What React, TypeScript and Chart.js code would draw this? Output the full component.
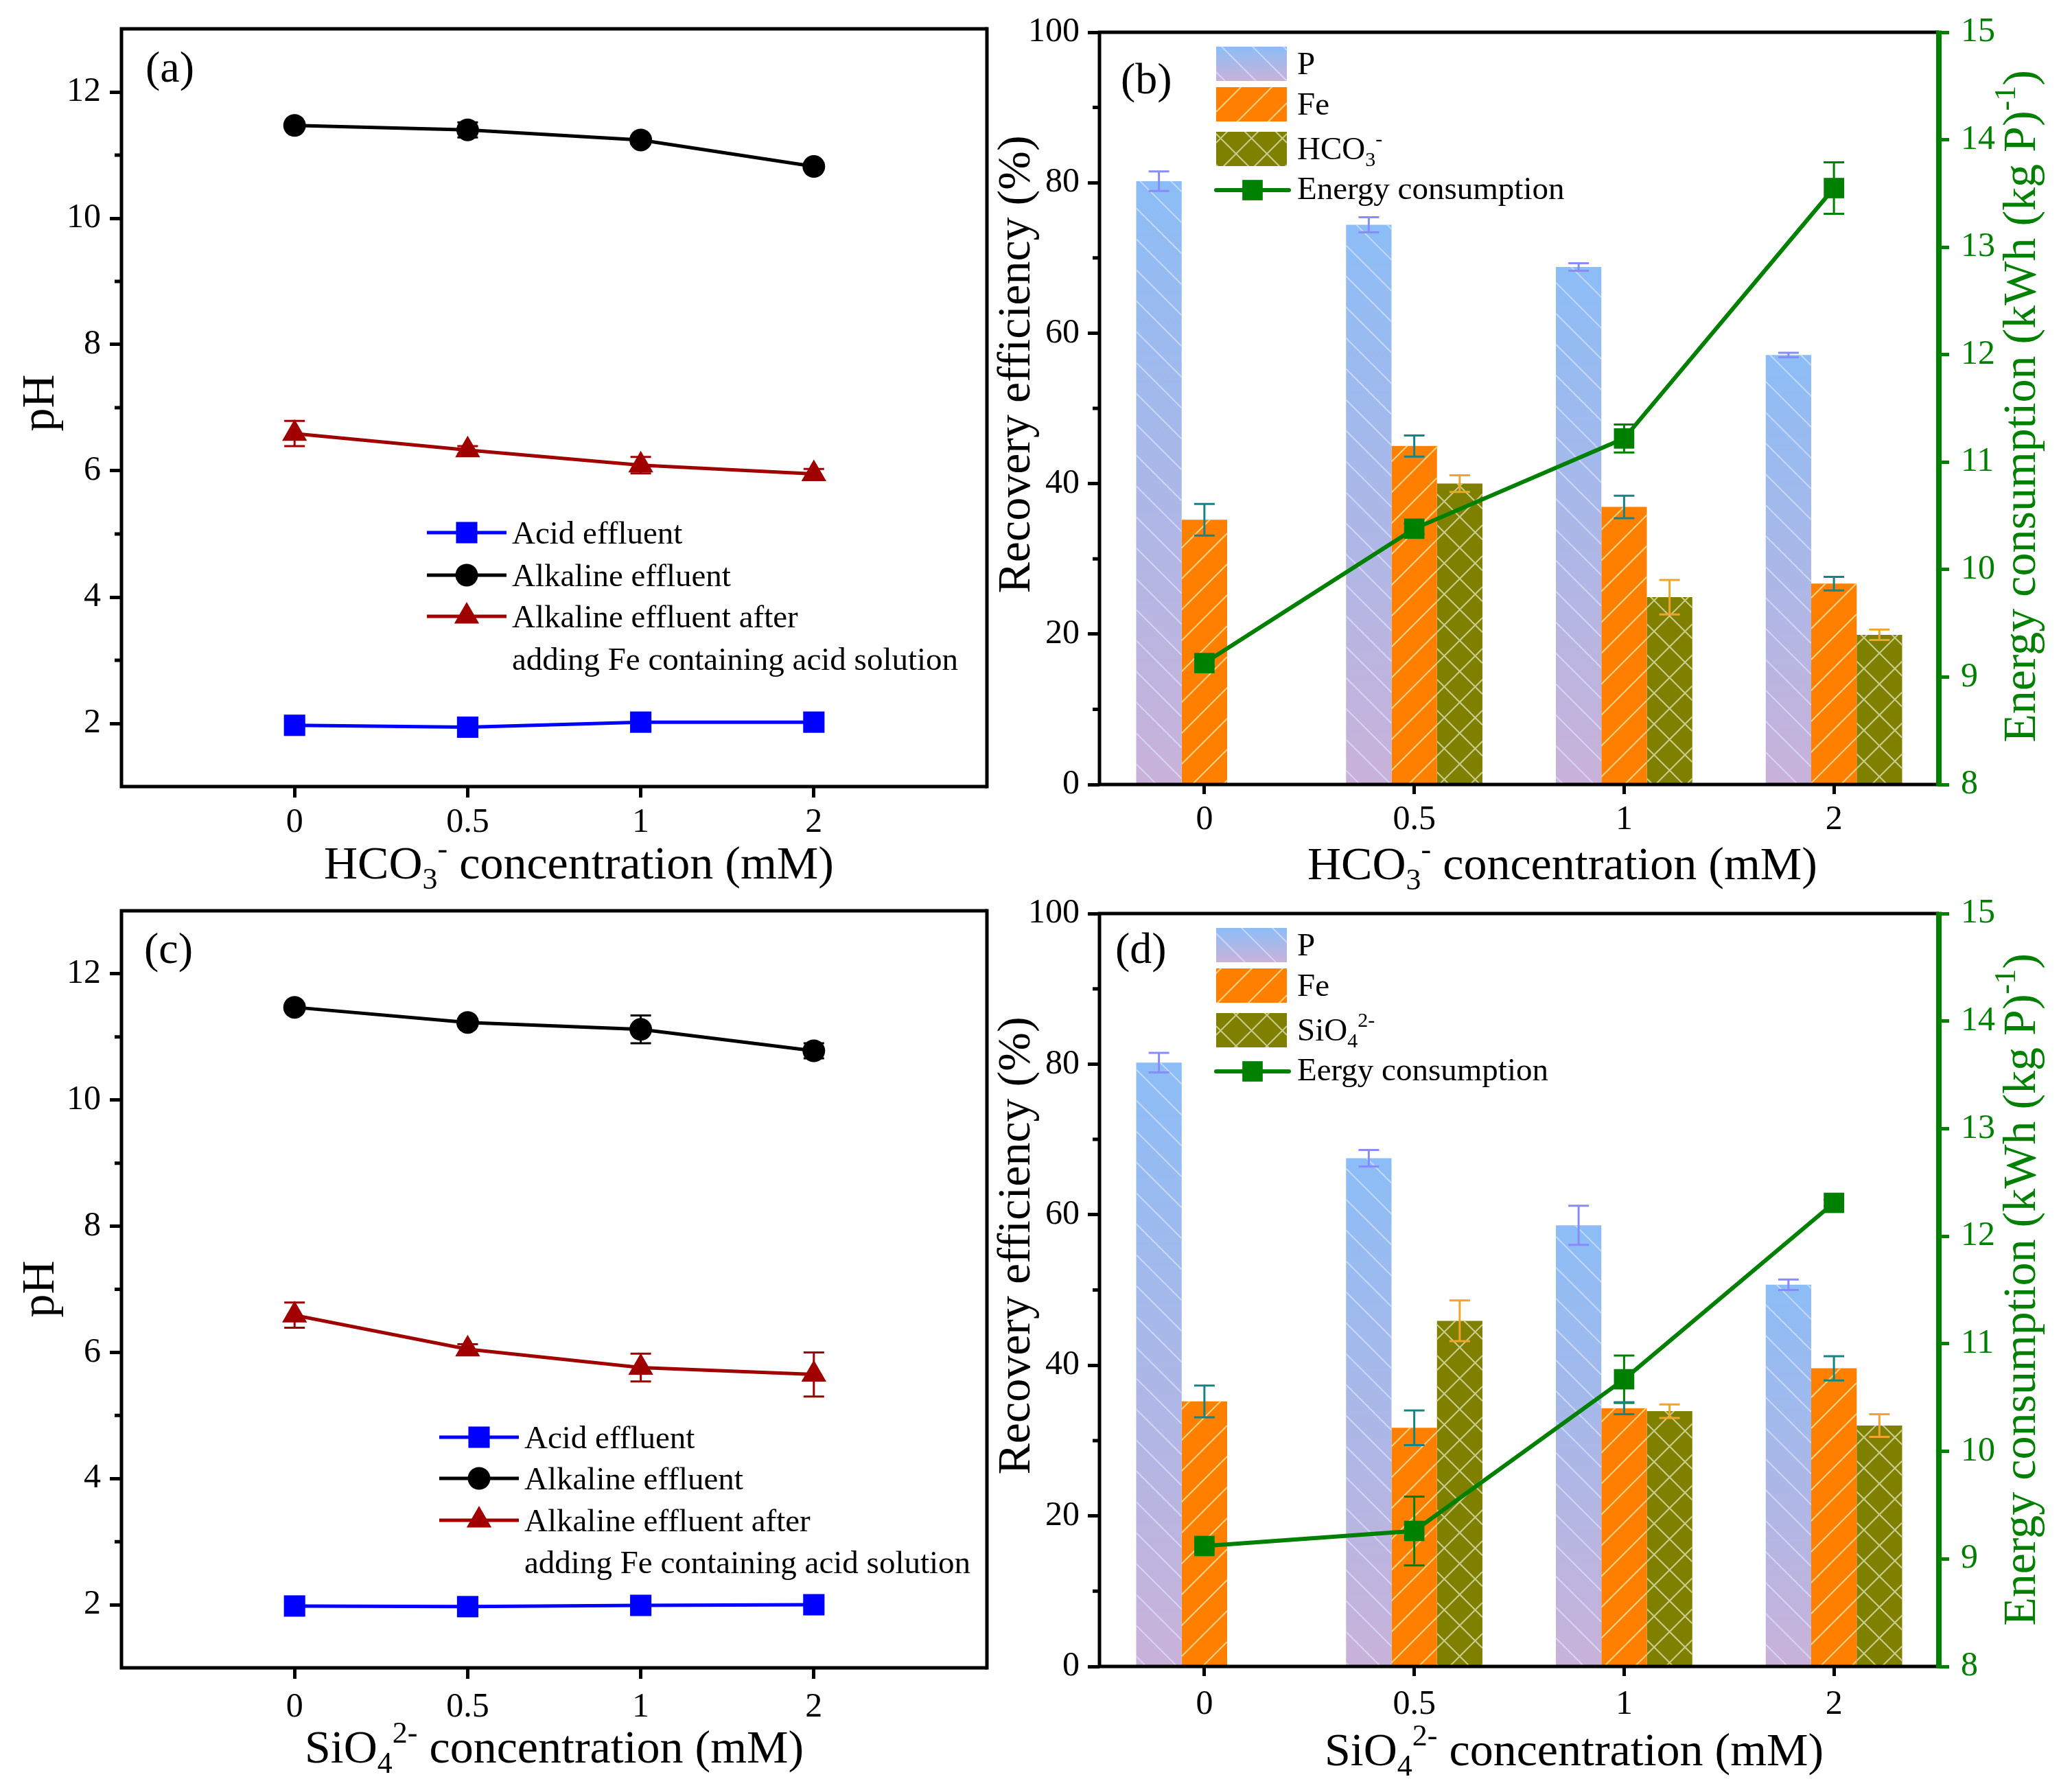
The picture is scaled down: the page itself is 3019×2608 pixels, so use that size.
import React, { useEffect, useRef } from 'react';
import { Chart, registerables } from 'chart.js';

Chart.register(...registerables);

const FONT = '"Liberation Serif", "Times New Roman", Times, serif';
Chart.defaults.font.family = FONT;

// ---------------- data ----------------
const concLabels = ['0', '0.5', '1', '2'];

// (a) HCO3- series, pH
const acidA = [1.97, 1.94, 2.02, 2.02];
const acidAErr = [0.03, 0.03, 0.03, 0.03];
const alkA = [11.47, 11.4, 11.24, 10.82];
const alkAErr = [0.05, 0.12, 0.06, 0.05];
const alkFeA = [6.59, 6.33, 6.09, 5.95];
const alkFeAErr = [0.2, 0.06, 0.13, 0.08];

// (c) SiO4 2- series, pH
const acidC = [1.98, 1.97, 1.99, 2.0];
const acidCErr = [0.03, 0.03, 0.03, 0.03];
const alkC = [11.47, 11.23, 11.12, 10.78];
const alkCErr = [0.04, 0.05, 0.22, 0.12];
const alkFeC = [6.59, 6.05, 5.76, 5.65];
const alkFeCErr = [0.2, 0.08, 0.22, 0.35];

// (b) recovery efficiency (%) and energy, HCO3-
const pB = [80.2, 74.4, 68.8, 57.1];
const pBErr = [1.3, 1.0, 0.5, 0.3];
const feB = [35.2, 45.0, 36.9, 26.7];
const feBErr = [2.1, 1.4, 1.5, 0.9];
const hco3B = [null, 40.0, 24.9, 19.9];
const hco3BErr = [0, 1.1, 2.3, 0.7];
const energyB = [9.13, 10.38, 11.22, 13.55];
const energyBErr = [0.03, 0.05, 0.13, 0.24];

// (d) recovery efficiency (%) and energy, SiO4 2-
const pD = [80.2, 67.5, 58.6, 50.7];
const pDErr = [1.3, 1.1, 2.6, 0.7];
const feD = [35.2, 31.7, 34.3, 39.6];
const feDErr = [2.1, 2.3, 0.8, 1.6];
const sio4D = [null, 45.9, 33.9, 32.0];
const sio4DErr = [0, 2.7, 0.9, 1.5];
const energyD = [9.12, 9.26, 10.67, 12.31];
const energyDErr = [0.03, 0.32, 0.22, 0.03];

const pHTicks = [2, 4, 6, 8, 10, 12];
const pHMinor = [3, 5, 7, 9, 11];
const recTicks = [0, 20, 40, 60, 80, 100];
const recMinor = [10, 30, 50, 70, 90];
const energyTicks = [8, 9, 10, 11, 12, 13, 14, 15];

// ---------------- helpers ----------------
type Seg = { t: string; s?: 'sub' | 'sup' };
interface TextSpec { segs: Seg[]; x: number; y: number; size: number; color?: string; rot?: boolean; align?: 'left' | 'center' }

const segFont = (size: number, s?: string) => `${s ? Math.round(size * 0.64) : size}px ${FONT}`;

function drawRich(ctx: CanvasRenderingContext2D, sp: TextSpec) {
  ctx.save();
  ctx.translate(sp.x, sp.y);
  if (sp.rot) ctx.rotate(-Math.PI / 2);
  let w = 0;
  for (const g of sp.segs) { ctx.font = segFont(sp.size, g.s); w += ctx.measureText(g.t).width; }
  let cx = sp.align === 'center' ? -w / 2 : 0;
  ctx.fillStyle = sp.color || '#000';
  ctx.textAlign = 'left';
  ctx.textBaseline = 'alphabetic';
  for (const g of sp.segs) {
    ctx.font = segFont(sp.size, g.s);
    const dy = g.s === 'sub' ? sp.size * 0.22 : g.s === 'sup' ? -sp.size * 0.42 : 0;
    ctx.fillText(g.t, cx, dy);
    cx += ctx.measureText(g.t).width;
  }
  ctx.restore();
}

function drawMarker(ctx: CanvasRenderingContext2D, style: string, x: number, y: number, r: number, color: string) {
  ctx.save();
  ctx.fillStyle = color;
  ctx.beginPath();
  if (style === 'rect') {
    const s = Math.SQRT1_2 * r;
    ctx.rect(x - s, y - s, 2 * s, 2 * s);
  } else if (style === 'circle') {
    ctx.arc(x, y, r, 0, Math.PI * 2);
  } else {
    let a = 0;
    ctx.moveTo(x + Math.sin(a) * r, y - Math.cos(a) * r);
    a += (2 * Math.PI) / 3;
    ctx.lineTo(x + Math.sin(a) * r, y - Math.cos(a) * r);
    a += (2 * Math.PI) / 3;
    ctx.lineTo(x + Math.sin(a) * r, y - Math.cos(a) * r);
    ctx.closePath();
  }
  ctx.fill();
  ctx.restore();
}

function drawHatch(ctx: CanvasRenderingContext2D, x0: number, y0: number, w: number, h: number, kind: string, color: string, sp = 45) {
  if (!(w > 0) || !(h > 0)) return;
  ctx.save();
  ctx.beginPath();
  ctx.rect(x0, y0, w, h);
  ctx.clip();
  ctx.strokeStyle = color;
  ctx.lineWidth = 2;
  ctx.beginPath();
  const off = ((x0 + y0) % sp + sp) % sp;
  if (kind === 'back' || kind === 'cross') {
    for (let c = -w - sp - off; c <= h + sp; c += sp) { ctx.moveTo(x0, y0 + c); ctx.lineTo(x0 + w, y0 + c + w); }
  }
  if (kind === 'fwd' || kind === 'cross') {
    for (let c = -off; c <= h + w + sp; c += sp) { ctx.moveTo(x0, y0 + c); ctx.lineTo(x0 + w, y0 + c - w); }
  }
  ctx.stroke();
  ctx.restore();
}

function drawErrors(chart: any) {
  const ctx = chart.ctx;
  chart.data.datasets.forEach((ds: any, i: number) => {
    if (!ds.errors) return;
    const meta = chart.getDatasetMeta(i);
    const ys = chart.scales[meta.yAxisID];
    ctx.save();
    ctx.strokeStyle = ds.errColor;
    ctx.lineWidth = 3;
    meta.data.forEach((el: any, j: number) => {
      const raw = ds.data[j];
      const v = raw !== null && typeof raw === 'object' ? raw.y : raw;
      const e = ds.errors[j];
      if (v == null || !e) return;
      const x = el.x;
      const y1 = ys.getPixelForValue(v + e);
      const y2 = ys.getPixelForValue(v - e);
      const cw = 15;
      ctx.beginPath();
      ctx.moveTo(x, y1); ctx.lineTo(x, y2);
      ctx.moveTo(x - cw, y1); ctx.lineTo(x + cw, y1);
      ctx.moveTo(x - cw, y2); ctx.lineTo(x + cw, y2);
      ctx.stroke();
    });
    ctx.restore();
  });
}

function drawFrame(chart: any, rightColor: string, rightW: number) {
  const ctx = chart.ctx;
  const { left, right, top, bottom } = chart.chartArea;
  ctx.save();
  ctx.lineJoin = 'miter';
  ctx.strokeStyle = '#000';
  ctx.lineWidth = 5;
  ctx.beginPath();
  ctx.moveTo(right, top);
  ctx.lineTo(left, top);
  ctx.lineTo(left, bottom);
  ctx.lineTo(right, bottom);
  ctx.stroke();
  ctx.strokeStyle = rightColor;
  ctx.lineWidth = rightW;
  ctx.beginPath();
  ctx.moveTo(right, top - 2.5);
  ctx.lineTo(right, bottom + 2.5);
  ctx.stroke();
  ctx.restore();
}

function drawMinor(chart: any, axis: string, values: number[], len: number, side: 'left' | 'right', color: string) {
  const ctx = chart.ctx;
  const s = chart.scales[axis];
  const { left, right } = chart.chartArea;
  ctx.save();
  ctx.strokeStyle = color;
  ctx.lineWidth = 5;
  ctx.beginPath();
  values.forEach((v) => {
    const y = s.getPixelForValue(v);
    if (side === 'left') { ctx.moveTo(left - len, y); ctx.lineTo(left, y); }
    else { ctx.moveTo(right, y); ctx.lineTo(right + len, y); }
  });
  ctx.stroke();
  ctx.restore();
}

const tickFont = { family: FONT, size: 50 };

// ---------------- pH chart (a), (c) ----------------
function pHConfig(c: any) {
  const xy = (arr: number[]) => arr.map((v, i) => ({ x: i, y: v }));
  const series = [
    { text: 'Acid effluent', data: c.acid, err: c.acidErr, color: '#0000ff', style: 'rect', r: 22 },
    { text: 'Alkaline effluent', data: c.alk, err: c.alkErr, color: '#000000', style: 'circle', r: 16.5 },
    { text: 'Alkaline effluent after', data: c.alkFe, err: c.alkFeErr, color: '#a00000', style: 'triangle', r: 21 },
  ];
  const datasets = series.map((s) => ({
    label: s.text,
    data: xy(s.data),
    borderColor: s.color,
    backgroundColor: s.color,
    pointBackgroundColor: s.color,
    pointBorderColor: s.color,
    pointBorderWidth: 0,
    pointStyle: s.style,
    pointRadius: s.r,
    borderWidth: 5,
    tension: 0,
    errors: s.err,
    errColor: s.color,
  }));
  const lg = c.legend;
  const plugin = {
    id: 'decorPH',
    beforeDatasetsDraw(chart: any) { drawErrors(chart); },
    afterDraw(chart: any) {
      const ctx = chart.ctx;
      drawFrame(chart, '#000', 5);
      drawMinor(chart, 'y', pHMinor, 10, 'left', '#000');
      c.texts.forEach((t: TextSpec) => drawRich(ctx, t));
      series.forEach((s, i) => {
        const y = lg.ys[i];
        ctx.save();
        ctx.strokeStyle = s.color;
        ctx.lineWidth = 5;
        ctx.beginPath();
        ctx.moveTo(lg.x1, y);
        ctx.lineTo(lg.x2, y);
        ctx.stroke();
        ctx.restore();
        drawMarker(ctx, s.style, (lg.x1 + lg.x2) / 2, y, s.r, s.color);
        drawRich(ctx, { segs: [{ t: s.text }], x: lg.tx, y: y + 16, size: 47 });
      });
      drawRich(ctx, { segs: [{ t: 'adding Fe containing acid solution' }], x: lg.tx, y: lg.ys[3] + 16, size: 47 });
    },
  };
  return {
    type: 'line',
    data: { datasets },
    plugins: [plugin],
    options: {
      animation: false,
      responsive: false,
      maintainAspectRatio: false,
      devicePixelRatio: 1,
      layout: { padding: { left: 0, top: c.T, right: c.W - c.R, bottom: 0 } },
      plugins: { legend: { display: false }, tooltip: { enabled: false } },
      scales: {
        x: {
          type: 'linear',
          min: -1,
          max: 4,
          afterBuildTicks: (s: any) => { s.ticks = [0, 1, 2, 3].map((v) => ({ value: v })); },
          afterFit: (s: any) => { s.height = c.H - c.B; s.paddingLeft = 0; s.paddingRight = 0; },
          ticks: { autoSkip: false, maxRotation: 0, font: tickFont, color: '#000', padding: c.xPad, callback: (v: any) => concLabels[v] ?? '' },
          grid: { display: true, drawOnChartArea: false, drawTicks: true, tickLength: 16, tickWidth: 5, tickColor: '#000' },
          border: { display: false },
        },
        y: {
          type: 'linear',
          min: 1,
          max: 13,
          afterBuildTicks: (s: any) => { s.ticks = pHTicks.map((v) => ({ value: v })); },
          afterFit: (s: any) => { s.width = c.L; s.paddingTop = 0; s.paddingBottom = 0; },
          ticks: { font: tickFont, color: '#000', padding: 13 },
          grid: { display: true, drawOnChartArea: false, drawTicks: true, tickLength: 17, tickWidth: 5, tickColor: '#000' },
          border: { display: false },
        },
      },
    },
  };
}

// ---------------- bar chart (b), (d) ----------------
const P_TOP = '#8cbdf6';
const P_BOT = '#c9b2d9';

function barConfig(c: any) {
  const pGrad = (ctx: any) => {
    const chart = ctx.chart;
    if (!chart.chartArea || ctx.type !== 'data' || ctx.raw == null) return '#a8b8ea';
    const ys = chart.scales.y;
    const t = ys.getPixelForValue(ctx.raw);
    const b = ys.getPixelForValue(0);
    const g = chart.ctx.createLinearGradient(0, t, 0, b);
    g.addColorStop(0, P_TOP);
    g.addColorStop(1, P_BOT);
    return g;
  };
  const datasets: any[] = [
    {
      type: 'line', label: c.energyText, data: c.energy, yAxisID: 'y1', order: 0,
      borderColor: '#008000', backgroundColor: '#008000', borderWidth: 6, tension: 0,
      pointStyle: 'rect', pointRadius: 21, pointBackgroundColor: '#008000', pointBorderColor: '#008000', pointBorderWidth: 0,
      errors: c.energyErr, errColor: '#008000',
    },
    { type: 'bar', label: 'P', data: c.p, yAxisID: 'y', order: 1, backgroundColor: pGrad, borderWidth: 0, errors: c.pErr, errColor: '#8a8aff', hatch: 'back', hatchColor: 'rgba(228,234,255,0.6)' },
    { type: 'bar', label: 'Fe', data: c.fe, yAxisID: 'y', order: 1, backgroundColor: '#ff8000', borderWidth: 0, errors: c.feErr, errColor: '#138585', hatch: 'fwd', hatchColor: 'rgba(255,214,140,0.95)' },
    { type: 'bar', label: c.thirdText, data: c.third, yAxisID: 'y', order: 1, backgroundColor: '#808000', borderWidth: 0, errors: c.thirdErr, errColor: '#f2a42a', hatch: 'cross', hatchColor: 'rgba(204,210,150,0.95)' },
  ];
  const lt = c.legendTop;
  const px1 = 332, pw = 103, ph = 50, tx = 450;
  const plugin = {
    id: 'decorBar',
    afterDatasetDraw(chart: any, args: any) {
      const ds = chart.data.datasets[args.index];
      if (!ds.hatch) return;
      const ctx = chart.ctx;
      args.meta.data.forEach((el: any, j: number) => {
        if (ds.data[j] == null) return;
        const top = Math.min(el.y, el.base);
        const h = Math.abs(el.base - el.y);
        drawHatch(ctx, el.x - el.width / 2, top, el.width, h, ds.hatch, ds.hatchColor);
      });
    },
    afterDatasetsDraw(chart: any) { drawErrors(chart); },
    afterDraw(chart: any) {
      const ctx = chart.ctx;
      drawFrame(chart, '#008000', 8);
      drawMinor(chart, 'y', recMinor, 10, 'left', '#000');
      c.texts.forEach((t: TextSpec) => drawRich(ctx, t));
      // legend patches
      const rows = [
        { y: lt, fill: 'grad', hatch: 'back', hc: 'rgba(228,234,255,0.6)', segs: [{ t: 'P' }] },
        { y: lt + 59, fill: '#ff8000', hatch: 'fwd', hc: 'rgba(255,214,140,0.95)', segs: [{ t: 'Fe' }] },
        { y: lt + 124, fill: '#808000', hatch: 'cross', hc: 'rgba(204,210,150,0.95)', segs: c.thirdSegs },
      ];
      rows.forEach((r: any) => {
        ctx.save();
        if (r.fill === 'grad') {
          const g = ctx.createLinearGradient(0, r.y, 0, r.y + ph);
          g.addColorStop(0, P_TOP);
          g.addColorStop(1, P_BOT);
          ctx.fillStyle = g;
        } else ctx.fillStyle = r.fill;
        ctx.fillRect(px1, r.y, pw, ph);
        ctx.restore();
        drawHatch(ctx, px1, r.y, pw, ph, r.hatch, r.hc);
        drawRich(ctx, { segs: r.segs, x: tx, y: r.y + 40, size: 47 });
      });
      const ly = lt + 209;
      ctx.save();
      ctx.strokeStyle = '#008000';
      ctx.lineWidth = 6;
      ctx.lineCap = 'round';
      ctx.beginPath();
      ctx.moveTo(332, ly);
      ctx.lineTo(438, ly);
      ctx.stroke();
      ctx.restore();
      drawMarker(ctx, 'rect', 385, ly, 21, '#008000');
      drawRich(ctx, { segs: [{ t: c.energyText }], x: tx, y: lt + 222, size: 47 });
    },
  };
  return {
    type: 'bar',
    data: { labels: concLabels, datasets },
    plugins: [plugin],
    options: {
      animation: false,
      responsive: false,
      maintainAspectRatio: false,
      devicePixelRatio: 1,
      layout: { padding: { left: 0, top: c.T, right: 0, bottom: 0 } },
      datasets: { bar: { categoryPercentage: 0.65, barPercentage: 1.0 } },
      plugins: { legend: { display: false }, tooltip: { enabled: false } },
      scales: {
        x: {
          type: 'category',
          offset: true,
          afterFit: (s: any) => { s.height = c.H - c.B; s.paddingLeft = 0; s.paddingRight = 0; },
          ticks: { autoSkip: false, maxRotation: 0, font: tickFont, color: '#000', padding: c.xPad },
          grid: { display: true, offset: false, drawOnChartArea: false, drawTicks: true, tickLength: 14, tickWidth: 5, tickColor: '#000' },
          border: { display: false },
        },
        y: {
          type: 'linear',
          position: 'left',
          min: 0,
          max: 100,
          afterBuildTicks: (s: any) => { s.ticks = recTicks.map((v) => ({ value: v })); },
          afterFit: (s: any) => { s.width = c.L; s.paddingTop = 0; s.paddingBottom = 0; },
          ticks: { font: tickFont, color: '#000', padding: 12 },
          grid: { display: true, drawOnChartArea: false, drawTicks: true, tickLength: 17, tickWidth: 5, tickColor: '#000' },
          border: { display: false },
        },
        y1: {
          type: 'linear',
          position: 'right',
          min: 8,
          max: 15,
          afterBuildTicks: (s: any) => { s.ticks = energyTicks.map((v) => ({ value: v })); },
          afterFit: (s: any) => { s.width = c.W - c.R; s.paddingTop = 0; s.paddingBottom = 0; },
          ticks: { font: tickFont, color: '#008000', padding: 17 },
          grid: { display: true, drawOnChartArea: false, drawTicks: true, tickLength: 15, tickWidth: 5, tickColor: '#008000' },
          border: { display: false },
        },
      },
    },
  };
}

// ---------------- panel specs ----------------
const hco3Title: Seg[] = [{ t: 'HCO' }, { t: '3', s: 'sub' }, { t: '-', s: 'sup' }, { t: ' concentration (mM)' }];
const sio4Title: Seg[] = [{ t: 'SiO' }, { t: '4', s: 'sub' }, { t: '2-', s: 'sup' }, { t: ' concentration (mM)' }];
const energyTitle: Seg[] = [{ t: 'Energy consumption (kWh (kg P)' }, { t: '-1', s: 'sup' }, { t: ')' }];

function buildA() {
  return pHConfig({
    W: 1460, H: 1300, L: 177, R: 1438, T: 42, B: 1146, xPad: 7,
    acid: acidA, acidErr: acidAErr, alk: alkA, alkErr: alkAErr, alkFe: alkFeA, alkFeErr: alkFeAErr,
    texts: [
      { segs: [{ t: '(a)' }], x: 212, y: 119, size: 64 },
      { segs: [{ t: 'pH' }], x: 78, y: 587, size: 68, rot: true, align: 'center' },
      { segs: hco3Title, x: 472, y: 1280, size: 68 },
    ],
    legend: { x1: 622, x2: 738, tx: 746, ys: [776, 838, 898, 960] },
  });
}

function buildC() {
  return pHConfig({
    W: 1460, H: 1308, L: 177, R: 1438, T: 27, B: 1130, xPad: 12,
    acid: acidC, acidErr: acidCErr, alk: alkC, alkErr: alkCErr, alkFe: alkFeC, alkFeErr: alkFeCErr,
    texts: [
      { segs: [{ t: '(c)' }], x: 210, y: 103, size: 64 },
      { segs: [{ t: 'pH' }], x: 78, y: 578, size: 68, rot: true, align: 'center' },
      { segs: sio4Title, x: 444, y: 1268, size: 68 },
    ],
    legend: { x1: 640, x2: 756, tx: 764, ys: [794, 854, 915, 976] },
  });
}

function buildB() {
  return barConfig({
    W: 1579, H: 1300, L: 162, R: 1385, T: 47, B: 1143, xPad: 8,
    p: pB, pErr: pBErr, fe: feB, feErr: feBErr, third: hco3B, thirdErr: hco3BErr, thirdText: 'HCO3-',
    energy: energyB, energyErr: energyBErr, energyText: 'Energy consumption',
    thirdSegs: [{ t: 'HCO' }, { t: '3', s: 'sub' }, { t: '-', s: 'sup' }],
    legendTop: 68,
    texts: [
      { segs: [{ t: '(b)' }], x: 193, y: 136, size: 64 },
      { segs: [{ t: 'Recovery efficiency (%)' }], x: 60, y: 531, size: 68, rot: true, align: 'center' },
      { segs: energyTitle, x: 1525, y: 592, size: 68, rot: true, align: 'center', color: '#008000' },
      { segs: hco3Title, x: 465, y: 1281, size: 68 },
    ],
  });
}

function buildD() {
  return barConfig({
    W: 1579, H: 1308, L: 162, R: 1385, T: 31, B: 1128, xPad: 12,
    p: pD, pErr: pDErr, fe: feD, feErr: feDErr, third: sio4D, thirdErr: sio4DErr, thirdText: 'SiO42-',
    energy: energyD, energyErr: energyDErr, energyText: 'Eergy consumption',
    thirdSegs: [{ t: 'SiO' }, { t: '4', s: 'sub' }, { t: '2-', s: 'sup' }],
    legendTop: 52,
    texts: [
      { segs: [{ t: '(d)' }], x: 185, y: 103, size: 64 },
      { segs: [{ t: 'Recovery efficiency (%)' }], x: 60, y: 515, size: 68, rot: true, align: 'center' },
      { segs: energyTitle, x: 1525, y: 579, size: 68, rot: true, align: 'center', color: '#008000' },
      { segs: sio4Title, x: 490, y: 1272, size: 68 },
    ],
  });
}

function Panel({ left, top, width, height, build }: { left: number; top: number; width: number; height: number; build: () => any }) {
  const ref = useRef<HTMLCanvasElement>(null);
  useEffect(() => {
    const cv = ref.current as HTMLCanvasElement;
    const chart = new Chart(cv, build());
    return () => chart.destroy();
  }, []);
  return (
    <canvas
      ref={ref}
      width={width}
      height={height}
      style={{ position: 'absolute', left, top, width, height, display: 'block' }}
    />
  );
}

export default function App() {
  return (
    <div style={{ position: 'absolute', left: 0, top: 0, width: 3019, height: 2608, background: '#fff', overflow: 'hidden' }}>
      <Panel left={0} top={0} width={1460} height={1300} build={buildA} />
      <Panel left={1440} top={0} width={1579} height={1300} build={buildB} />
      <Panel left={0} top={1300} width={1460} height={1308} build={buildC} />
      <Panel left={1440} top={1300} width={1579} height={1308} build={buildD} />
    </div>
  );
}
